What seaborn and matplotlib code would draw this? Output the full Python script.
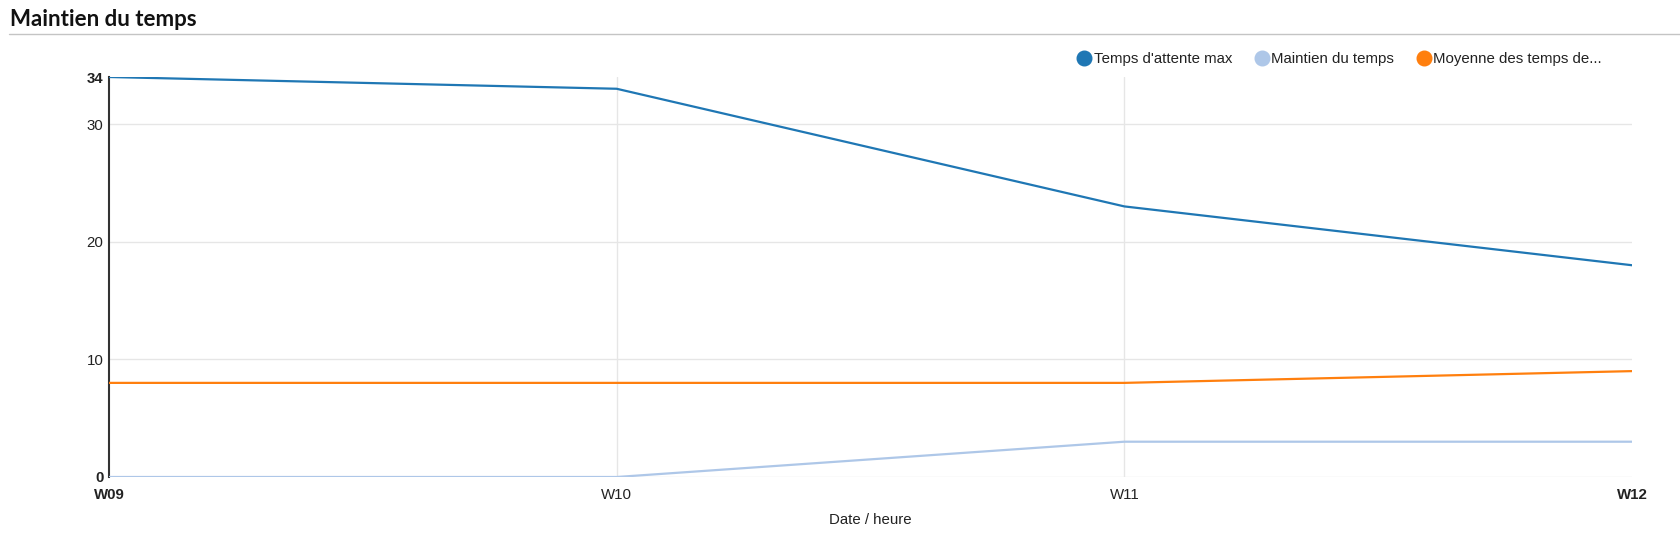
import matplotlib
matplotlib.use("Agg")
import matplotlib.pyplot as plt
import seaborn as sns
import pandas as pd
from matplotlib.lines import Line2D

weeks = ["W09", "W10", "W11", "W12"]
attente_max = [34, 33, 23, 18]
maintien = [0, 0, 3, 3]
moyenne = [8, 8, 8, 9]

series_names = ["Temps d'attente max", "Maintien du temps", "Moyenne des temps de..."]
series_colors = ["#1f77b4", "#aec7e8", "#ff7f0e"]
y_ticks = [0, 10, 20, 30, 34]

sns.set_theme(style="white")
plt.rcParams.update({
    "font.family": ["Liberation Sans", "DejaVu Sans"],
    "font.size": 10.8,
    "text.color": "#222222",
})

df = pd.DataFrame({
    "semaine": weeks * 3,
    "valeur": attente_max + maintien + moyenne,
    "serie": [series_names[0]] * 4 + [series_names[1]] * 4 + [series_names[2]] * 4,
})

fig = plt.figure(figsize=(16.81, 5.40), dpi=100)
ax = fig.add_axes([109 / 1681, 1 - 477 / 540, (1632 - 109) / 1681, (477 - 77) / 540])

sns.lineplot(data=df, x="semaine", y="valeur", hue="serie", hue_order=series_names,
             palette=series_colors, linewidth=1.6, legend=False, ax=ax, zorder=3)

ax.set_xlim(0, len(weeks) - 1)
ax.set_ylim(0, 34)
ax.set_yticks(y_ticks)
ax.set_yticklabels([str(v) for v in y_ticks])
ax.set_xticks(range(len(weeks)))
ax.set_xticklabels(weeks)

# first and last labels are bold, as in the original
for lab in (ax.get_yticklabels()[0], ax.get_yticklabels()[-1],
            ax.get_xticklabels()[0], ax.get_xticklabels()[-1]):
    lab.set_fontweight("bold")

ax.grid(True, color="#e6e6e6", linewidth=1)
ax.set_axisbelow(True)
ax.get_ygridlines()[-1].set_visible(False)
ax.get_xgridlines()[0].set_visible(False)
ax.get_xgridlines()[-1].set_visible(False)

for side in ["top", "right", "bottom"]:
    ax.spines[side].set_visible(False)
ax.spines["left"].set_color("#333333")
ax.spines["left"].set_linewidth(1.5)

ax.tick_params(axis="y", length=2.5, width=1, color="#333333", pad=1.5, labelsize=10.8, labelcolor="#222222")
ax.tick_params(axis="x", length=0, pad=8, labelsize=10.8, labelcolor="#222222")

ax.set_xlabel("Date / heure", fontsize=10.8, labelpad=8, color="#222222")
ax.set_ylabel("")

fig.text(10 / 1681, 1 - 20 / 540, "Maintien du temps", fontsize=16, fontweight="bold",
         family=["Lato", "DejaVu Sans"], va="center", ha="left", color="#111111")
fig.add_artist(Line2D([9 / 1681, 1], [1 - 34 / 540, 1 - 34 / 540], transform=fig.transFigure,
                      color="#c4c4c4", linewidth=1))

handles = [Line2D([], [], linestyle="none", marker="o", markersize=10.5,
                  markerfacecolor=c, markeredgecolor=c) for c in series_colors]
fig.legend(handles, series_names, loc="center right", bbox_to_anchor=(1602 / 1681, 1 - 59 / 540),
           ncol=3, frameon=False, handlelength=0.7, handletextpad=0.3, columnspacing=1.6,
           borderpad=0, borderaxespad=0, fontsize=10.8)

fig.savefig("out.png", dpi=100)
